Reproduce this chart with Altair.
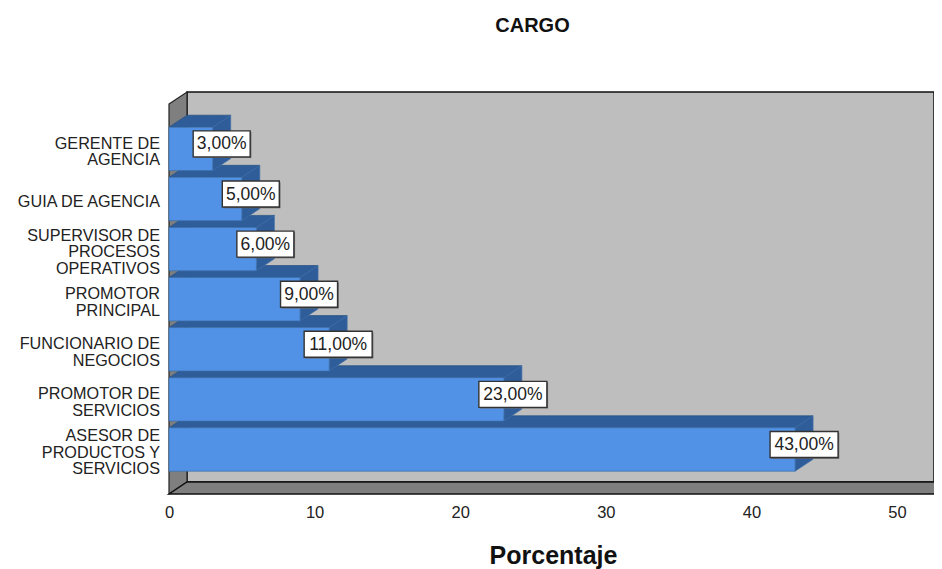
import altair as alt
import pandas as pd

categories = [["ASESOR DE", "PRODUCTOS Y", "SERVICIOS"], ["PROMOTOR DE", "SERVICIOS"], ["FUNCIONARIO DE", "NEGOCIOS"],
              ["PROMOTOR", "PRINCIPAL"], ["SUPERVISOR DE", "PROCESOS", "OPERATIVOS"], ["GUIA DE AGENCIA"],
              ["GERENTE DE", "AGENCIA"]]
values = [43, 23, 11, 9, 6, 5, 3]
x_ticks = [0, 10, 20, 30, 40, 50]

PX_X = 14.56
PX_Y = 50.1
DX = 18 / PX_X
DY = 12 / PX_Y
HALF = 21.7 / PX_Y
XDOM = [-4 / PX_X, 765 / PX_X]
YDOM = [(449.5 - 498) / PX_Y, (449.5 - 90) / PX_Y]
FLOOR = (449.5 - 494) / PX_Y
TOP = (449.5 - 92) / PX_Y
FLOOR_END = 766 / PX_X
LINE = 16.6 / PX_Y
FONT = "Liberation Sans"

xs = alt.Scale(domain=XDOM, nice=False, zero=False)
ys = alt.Scale(domain=YDOM, nice=False, zero=False)
X = alt.X("x:Q", scale=xs, title="Porcentaje",
          axis=alt.Axis(values=x_ticks, grid=False, domain=False, ticks=False, labelPadding=6,
                        labelFont=FONT, labelFontSize=16.5, labelColor="#222222", format="d",
                        titleFont=FONT, titleFontSize=25, titleFontWeight="bold", titleColor="#111111",
                        titlePadding=23, titleX=388, titleAlign="center"))
Y = alt.Y("y:Q", scale=ys, axis=None)
Y2 = alt.Y2("y2:Q")


def area(rows, fill, stroke, sw=1, clip=False):
    df = pd.DataFrame(rows, columns=["x", "y", "y2"])
    return alt.Chart(df).mark_area(fill=fill, stroke=stroke, strokeWidth=sw, clip=clip, opacity=1,
                                   interpolate="linear").encode(x=X, y=Y, y2=Y2)


layers = []
# back wall
layers.append(area([[DX, TOP, FLOOR + DY], [XDOM[1], TOP, FLOOR + DY]], "#bebebe", "#111111", 1.5))
# side wall
layers.append(area([[0, TOP - DY, FLOOR], [DX, TOP, FLOOR + DY]], "#7f7f7f", "#222222", 1.2))
# floor
layers.append(area([[0, FLOOR, FLOOR], [DX, FLOOR + DY, FLOOR], [FLOOR_END, FLOOR + DY, FLOOR],
                    [FLOOR_END + DX, FLOOR + DY, FLOOR + DY]], "#7f7f7f", "#111111", 1.5, clip=True))

# bars, lowest first so the upper bar's front covers the top face below it
for i, v in enumerate(values):
    t, b = i + HALF, i - HALF
    layers.append(area([[0, t, t], [DX, t + DY, t], [v, t + DY, t], [v + DX, t + DY, t + DY]],
                       "#2f5d99", "#27507f", 0.7))
    layers.append(area([[v, t, b], [v + DX, t + DY, b + DY]], "#2f5d99", "#3f70ab", 0.7))
    layers.append(area([[0, t, b], [v, t, b]], "#5292e6", "#3c6ea8", 0.7))

# category labels, one row per text line
cat_rows = []
for i, lines in enumerate(categories):
    for k, line in enumerate(lines):
        cat_rows.append({"label": line, "x": 0, "y": i + ((len(lines) - 1) / 2 - k) * LINE})
layers.append(alt.Chart(pd.DataFrame(cat_rows)).mark_text(align="right", baseline="middle", dx=-9, dy=3,
                                                          font=FONT, fontSize=16.2, color="#222222")
              .encode(x=X, y=Y, text="label:N"))

# value labels
lab = pd.DataFrame({"v": values, "i": range(len(values))})
lab["txt"] = [f"{v},00%" for v in values]
lab["cx"] = lab["v"] + DX / 2
lab["cy"] = lab["i"] + DY / 2
lab["w"] = [(68 if v >= 10 else 57) / PX_X / 2 for v in values]
box = pd.DataFrame({"x": lab["cx"] - lab["w"], "x2": lab["cx"] + lab["w"],
                    "y": lab["cy"] - 14 / PX_Y, "y2": lab["cy"] + 12 / PX_Y})
txt = pd.DataFrame({"x": lab["cx"], "y": lab["cy"], "txt": lab["txt"]})
layers.append(alt.Chart(box).mark_rect(fill="#666666", xOffset=1.2, x2Offset=1.2, yOffset=1.2, y2Offset=1.2)
              .encode(x=X, x2="x2:Q", y=Y, y2=Y2))
layers.append(alt.Chart(box).mark_rect(fill="#ffffff", stroke="#333333", strokeWidth=1.4)
              .encode(x=X, x2="x2:Q", y=Y, y2=Y2))
layers.append(alt.Chart(txt).mark_text(font=FONT, fontSize=17.5, dy=1.5, color="#222222", baseline="middle",
                                       align="center")
              .encode(x=X, y=Y, text="txt:N"))

chart = alt.layer(*layers).properties(
    width=769, height=408, background="white",
    title=alt.TitleParams("CARGO", font=FONT, fontSize=20, fontWeight="bold", color="#111111",
                          anchor="middle", dx=-17, offset=53),
    padding={"left": 157, "top": 82, "right": 0, "bottom": 71},
    autosize=alt.AutoSizeParams(type="none"),
).configure_view(stroke=None)

chart.save("out.html", embed_options={"renderer": "svg", "actions": False})
